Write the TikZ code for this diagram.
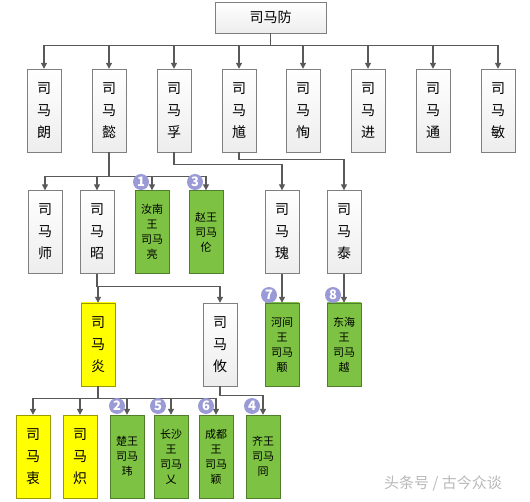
\documentclass[tikz,border=0pt]{standalone}
\usepackage{fontspec}
\setmainfont{Noto Sans CJK SC}
\usepackage{xcolor}
\usetikzlibrary{arrows.meta}
\definecolor{linegray}{HTML}{595959}
\definecolor{boxline}{HTML}{7F7F7F}
\definecolor{wanggreen}{HTML}{7DC242}
\definecolor{wangline}{HTML}{4F7F2A}
\definecolor{emperor}{HTML}{FFFF00}
\definecolor{emperorline}{HTML}{9A9A00}
\definecolor{badgeblue}{HTML}{9A9AD6}

\begin{document}
\begin{tikzpicture}[x=1pt, y=-1pt,
  person/.style={draw=boxline, top color=white, bottom color=gray!14, align=center, inner sep=0pt,
    minimum width=34pt, minimum height=83pt, font=\fontsize{14}{22}\selectfont},
  heir/.style={person, draw=emperorline, top color=emperor, bottom color=emperor},
  prince/.style={person, draw=wangline, top color=wanggreen, bottom color=wanggreen, font=\fontsize{11}{15}\selectfont},
  badge/.style={circle, fill=badgeblue, text=white, inner sep=0pt, minimum size=16pt, font=\fontsize{13}{13}\selectfont\bfseries},
  arr/.style={-{Triangle[width=6pt,length=6pt]}, draw=linegray, line width=1.2pt}
]
\useasboundingbox[fill=white] (0,0) rectangle (530,502);

% top
\node[person, minimum width=111pt, minimum height=31pt] (fang) at (270.5,17.5) {司马防};

% sons
\node[person] (lang) at (44,110.5) {司\\马\\朗};
\node[person] (yi) at (109,110.5) {司\\马\\懿};
\node[person] (fu) at (174,110.5) {司\\马\\孚};
\node[person] (kui) at (239,110.5) {司\\马\\馗};
\node[person] (xun) at (303,110.5) {司\\马\\恂};
\node[person] (jin) at (368,110.5) {司\\马\\进};
\node[person] (tong) at (433,110.5) {司\\马\\通};
\node[person] (min) at (498,110.5) {司\\马\\敏};
\draw[arr] (fang.south) -- ++(0,12) -| (lang);
\draw[arr] (fang.south) -- ++(0,12) -| (yi);
\draw[arr] (fang.south) -- ++(0,12) -| (fu);
\draw[arr] (fang.south) -- ++(0,12) -| (kui);
\draw[arr] (fang.south) -- ++(0,12) -| (xun);
\draw[arr] (fang.south) -- ++(0,12) -| (jin);
\draw[arr] (fang.south) -- ++(0,12) -| (tong);
\draw[arr] (fang.south) -- ++(0,12) -| (min);

% grandsons
\node[person] (shi) at (45,232) {司\\马\\师};
\node[person] (zhao) at (97,232) {司\\马\\昭};
\node[prince] (liang) at (152,232) {汝南\\王\\司马\\亮};
\node[prince] (lun) at (206,232) {赵王\\司马\\伦};
\node[person] (gui) at (282,232) {司\\马\\瑰};
\node[person] (tai) at (344,232) {司\\马\\泰};
\draw[arr] (yi.south) -- ++(0,24) -| (shi);
\draw[arr] (yi.south) -- ++(0,24) -| (zhao);
\draw[arr] (yi.south) -- ++(0,24) -| (liang);
\draw[arr] (yi.south) -- ++(0,24) -| (lun);
\draw[arr] (fu.south) -- ++(0,12) -| (gui);
\draw[arr] (kui.south) -- ++(0,7) -| (tai);

% next generation
\node[heir] (yan) at (98,344.5) {司\\马\\炎};
\node[person] (you) at (220,344.5) {司\\马\\攸};
\node[prince] (yong) at (282,344.5) {河间\\王\\司马\\颙};
\node[prince] (yue) at (344,344.5) {东海\\王\\司马\\越};
\draw[arr] (zhao.south) -- ++(0,13) -| (yan);
\draw[arr] (zhao.south) -- ++(0,13) -| (you);
\draw[arr] (gui) -- (yong);
\draw[arr] (tai) -- (yue);

% last row
\node[heir] (zhong) at (33,456.5) {司\\马\\衷};
\node[heir] (zhi) at (80,456.5) {司\\马\\炽};
\node[prince] (wei) at (127,456.5) {楚王\\司马\\玮};
\node[prince] (ai) at (171,456.5) {长沙\\王\\司马\\乂};
\node[prince] (ying) at (216,456.5) {成都\\王\\司马\\颖};
\node[prince] (jiong) at (263,456.5) {齐王\\司马\\冏};
\draw[arr] (yan.south) -- ++(0,12) -| (zhong);
\draw[arr] (yan.south) -- ++(0,12) -| (zhi);
\draw[arr] (yan.south) -- ++(0,12) -| (wei);
\draw[arr] (yan.south) -- ++(0,12) -| (ai);
\draw[arr] (yan.south) -- ++(0,12) -| (ying);
\draw[arr] (you.south) -- ++(0,9) -| (jiong);

% order of the eight princes
\node[badge] (n1) at (141,182) {1};
\node[badge] (n3) at (195,182) {3};
\node[badge] (n7) at (269,295) {7};
\node[badge] (n8) at (333,295) {8};
\node[badge] (n2) at (117,406) {2};
\node[badge] (n5) at (158,406) {5};
\node[badge] (n6) at (206,406) {6};
\node[badge] (n4) at (252,406) {4};

\node[text=gray!55, font=\fontsize{15}{15}\selectfont] (mark) at (443,483) {头条号 / 古今众谈};
\end{tikzpicture}
\end{document}
